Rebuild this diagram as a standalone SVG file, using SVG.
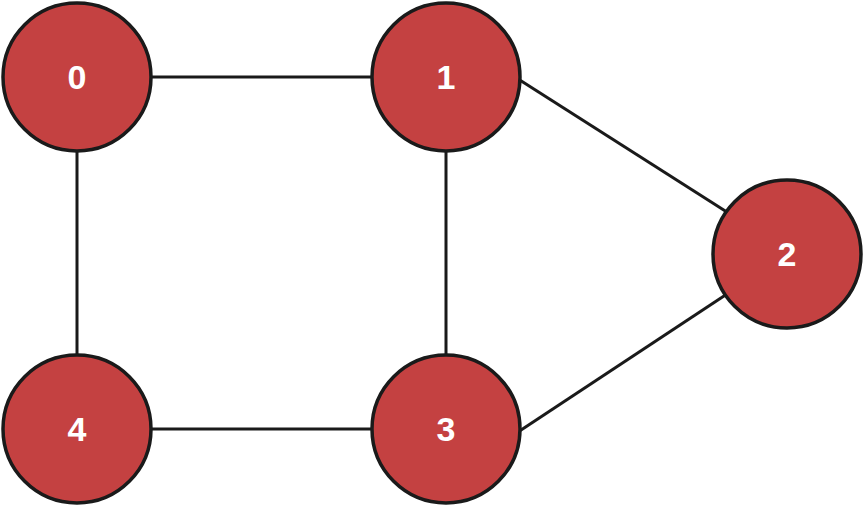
<svg xmlns="http://www.w3.org/2000/svg" width="864" height="507" viewBox="0 0 864 507">
<style>
.n{fill:#c44141;stroke:#1a1a1a;stroke-width:3.5}
.t{font-family:"Liberation Sans",Arial,sans-serif;font-weight:bold;font-size:34px;fill:#fff;text-anchor:middle;dominant-baseline:central}
.e{stroke:#1a1a1a;stroke-width:3;fill:none}
</style>
<rect width="864" height="507" fill="#fff"/>
<g id="edges">
<line class="e" x1="77" y1="77" x2="446" y2="77"/>
<line class="e" x1="77" y1="77" x2="77" y2="429"/>
<line class="e" x1="446" y1="77" x2="446" y2="429"/>
<line class="e" x1="77" y1="429" x2="446" y2="429"/>
<line class="e" x1="515" y1="77" x2="730" y2="214"/>
<line class="e" x1="515" y1="434" x2="730" y2="292"/>
</g>
<g id="node0"><circle class="n" cx="77" cy="77" r="74"/><text class="t" x="77" y="77">0</text></g>
<g id="node1"><circle class="n" cx="446" cy="77" r="74"/><text class="t" x="446" y="77">1</text></g>
<g id="node2"><circle class="n" cx="787" cy="254" r="74"/><text class="t" x="787" y="254">2</text></g>
<g id="node3"><circle class="n" cx="446" cy="429" r="74"/><text class="t" x="446" y="429">3</text></g>
<g id="node4"><circle class="n" cx="77" cy="429" r="74"/><text class="t" x="77" y="429">4</text></g>
</svg>
